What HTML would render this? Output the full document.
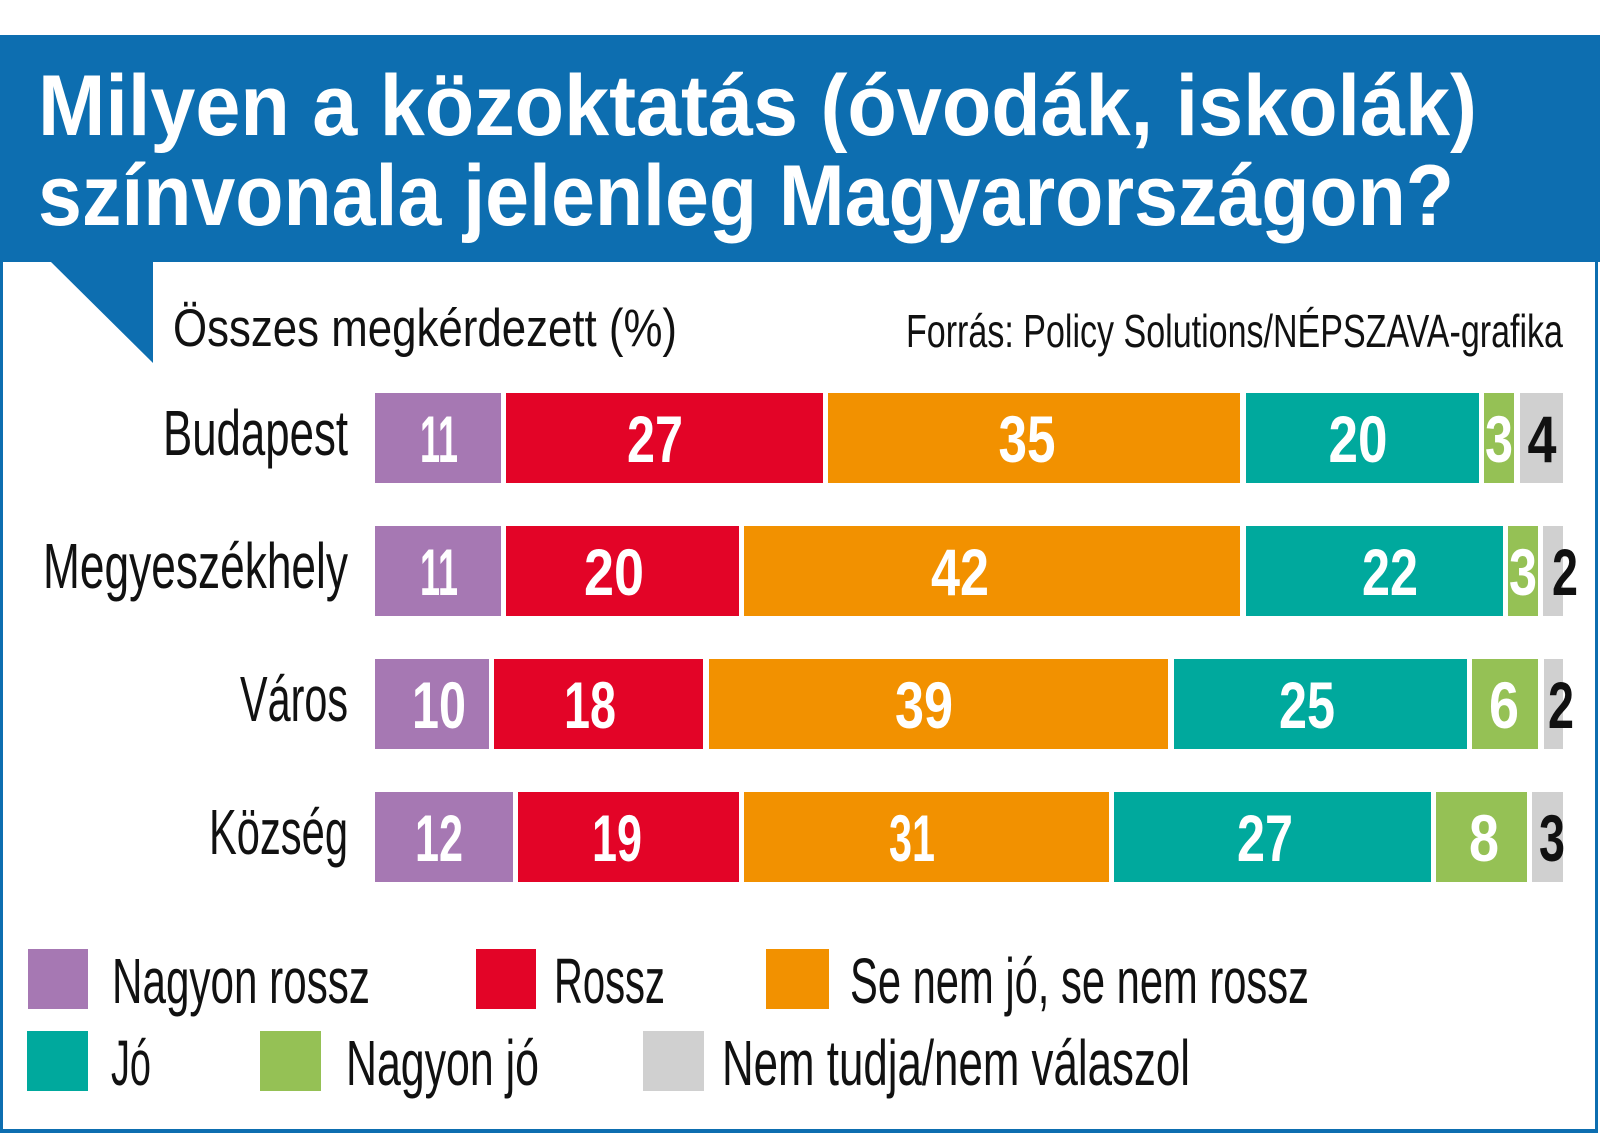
<!DOCTYPE html>
<html><head><meta charset="utf-8">
<style>
html,body{margin:0;padding:0;background:#fff;}
svg{display:block;}
.t{font-family:"Liberation Sans",sans-serif;font-weight:bold;fill:#fff;font-size:86px;}
.n{font-family:"Liberation Sans Narrow","Liberation Sans",sans-serif;font-weight:bold;font-size:66px;}
.l{font-family:"Liberation Sans Narrow","Liberation Sans",sans-serif;fill:#111;}
</style></head>
<body>
<svg width="1600" height="1137" viewBox="0 0 1600 1137" xmlns="http://www.w3.org/2000/svg">
<rect x="0" y="0" width="1600" height="1137" fill="#fff"/>
<!-- banner -->
<rect x="0" y="35" width="1600" height="227" fill="#0d6eb0"/>
<polygon points="50,261 153,261 153,363" fill="#0d6eb0"/>
<!-- frame -->
<rect x="0" y="261" width="3" height="872" fill="#0d6eb0"/>
<rect x="1595" y="261" width="3" height="872" fill="#0d6eb0"/>
<rect x="0" y="1129" width="1598" height="4" fill="#0d6eb0"/>
<!-- title -->
<text class="t" x="38" y="135" textLength="1439" lengthAdjust="spacingAndGlyphs">Milyen a közoktatás (óvodák, iskolák)</text>
<text class="t" x="38" y="225" textLength="1416" lengthAdjust="spacingAndGlyphs">színvonala jelenleg Magyarországon?</text>
<!-- subtitle -->
<text class="l" x="173" y="346" font-size="53" textLength="504" lengthAdjust="spacingAndGlyphs">Összes megkérdezett (%)</text>
<text class="l" x="906" y="347" font-size="46" textLength="657" lengthAdjust="spacingAndGlyphs">Forrás: Policy Solutions/NÉPSZAVA-grafika</text>
<!-- row labels -->
<g class="l" font-size="64" text-anchor="end">
<text x="348" y="455" textLength="185" lengthAdjust="spacingAndGlyphs">Budapest</text>
<text x="348" y="588" textLength="305" lengthAdjust="spacingAndGlyphs">Megyeszékhely</text>
<text x="348" y="721" textLength="108" lengthAdjust="spacingAndGlyphs">Város</text>
<text x="348" y="854" textLength="139" lengthAdjust="spacingAndGlyphs">Község</text>
</g>
<!-- Budapest -->
<g>
<rect x="375" y="393" width="126" height="90" fill="#a678b3"/>
<rect x="506" y="393" width="317" height="90" fill="#e30427"/>
<rect x="828" y="393" width="412" height="90" fill="#f29100"/>
<rect x="1246" y="393" width="233" height="90" fill="#00a99d"/>
<rect x="1484" y="393" width="30" height="90" fill="#95c155"/>
<rect x="1520" y="393" width="43" height="90" fill="#d0d0d0"/>
</g>
<!-- Megyeszékhely -->
<g>
<rect x="375" y="526" width="126" height="90" fill="#a678b3"/>
<rect x="506" y="526" width="233" height="90" fill="#e30427"/>
<rect x="744" y="526" width="496" height="90" fill="#f29100"/>
<rect x="1246" y="526" width="257" height="90" fill="#00a99d"/>
<rect x="1508" y="526" width="30" height="90" fill="#95c155"/>
<rect x="1543" y="526" width="20" height="90" fill="#d0d0d0"/>
</g>
<!-- Város -->
<g>
<rect x="375" y="659" width="114" height="90" fill="#a678b3"/>
<rect x="494" y="659" width="209" height="90" fill="#e30427"/>
<rect x="709" y="659" width="459" height="90" fill="#f29100"/>
<rect x="1174" y="659" width="293" height="90" fill="#00a99d"/>
<rect x="1472" y="659" width="66" height="90" fill="#95c155"/>
<rect x="1544" y="659" width="19" height="90" fill="#d0d0d0"/>
</g>
<!-- Község -->
<g>
<rect x="375" y="792" width="138" height="90" fill="#a678b3"/>
<rect x="518" y="792" width="221" height="90" fill="#e30427"/>
<rect x="744" y="792" width="365" height="90" fill="#f29100"/>
<rect x="1114" y="792" width="317" height="90" fill="#00a99d"/>
<rect x="1436" y="792" width="91" height="90" fill="#95c155"/>
<rect x="1532" y="792" width="31" height="90" fill="#d0d0d0"/>
</g>
<!-- numbers -->
<g class="n" fill="#fff" text-anchor="middle">
<text x="439" y="462" textLength="38" lengthAdjust="spacingAndGlyphs">11</text>
<text x="655" y="462" textLength="56" lengthAdjust="spacingAndGlyphs">27</text>
<text x="1027" y="462" textLength="57" lengthAdjust="spacingAndGlyphs">35</text>
<text x="1358" y="462" textLength="59" lengthAdjust="spacingAndGlyphs">20</text>
<text x="1499" y="462" textLength="28" lengthAdjust="spacingAndGlyphs">3</text>

<text x="439" y="595" textLength="38" lengthAdjust="spacingAndGlyphs">11</text>
<text x="614" y="595" textLength="60" lengthAdjust="spacingAndGlyphs">20</text>
<text x="960" y="595" textLength="58" lengthAdjust="spacingAndGlyphs">42</text>
<text x="1390" y="595" textLength="56" lengthAdjust="spacingAndGlyphs">22</text>
<text x="1523" y="595" textLength="28" lengthAdjust="spacingAndGlyphs">3</text>

<text x="439" y="728" textLength="54" lengthAdjust="spacingAndGlyphs">10</text>
<text x="590" y="728" textLength="52" lengthAdjust="spacingAndGlyphs">18</text>
<text x="924" y="728" textLength="58" lengthAdjust="spacingAndGlyphs">39</text>
<text x="1307" y="728" textLength="56" lengthAdjust="spacingAndGlyphs">25</text>
<text x="1504" y="728" textLength="30" lengthAdjust="spacingAndGlyphs">6</text>

<text x="439" y="861" textLength="48" lengthAdjust="spacingAndGlyphs">12</text>
<text x="617" y="861" textLength="50" lengthAdjust="spacingAndGlyphs">19</text>
<text x="912" y="861" textLength="46" lengthAdjust="spacingAndGlyphs">31</text>
<text x="1265" y="861" textLength="56" lengthAdjust="spacingAndGlyphs">27</text>
<text x="1484" y="861" textLength="30" lengthAdjust="spacingAndGlyphs">8</text>
</g>
<g class="n" fill="#111" text-anchor="middle">
<text x="1542" y="462" textLength="29" lengthAdjust="spacingAndGlyphs">4</text>
<text x="1565" y="595" textLength="26" lengthAdjust="spacingAndGlyphs">2</text>
<text x="1561" y="728" textLength="26" lengthAdjust="spacingAndGlyphs">2</text>
<text x="1552" y="861" textLength="26" lengthAdjust="spacingAndGlyphs">3</text>
</g>
<!-- legend -->
<rect x="28" y="949" width="60" height="60" fill="#a678b3"/>
<rect x="476" y="949" width="60" height="60" fill="#e30427"/>
<rect x="766" y="949" width="63" height="60" fill="#f29100"/>
<rect x="27" y="1031" width="61" height="60" fill="#00a99d"/>
<rect x="260" y="1031" width="61" height="60" fill="#95c155"/>
<rect x="643" y="1031" width="61" height="60" fill="#d0d0d0"/>
<g class="l" font-size="64">
<text x="112" y="1003" textLength="258" lengthAdjust="spacingAndGlyphs">Nagyon rossz</text>
<text x="554" y="1003" textLength="111" lengthAdjust="spacingAndGlyphs">Rossz</text>
<text x="850" y="1003" textLength="459" lengthAdjust="spacingAndGlyphs">Se nem jó, se nem rossz</text>
<text x="111" y="1085" textLength="40" lengthAdjust="spacingAndGlyphs">Jó</text>
<text x="346" y="1085" textLength="193" lengthAdjust="spacingAndGlyphs">Nagyon jó</text>
<text x="722" y="1085" textLength="468" lengthAdjust="spacingAndGlyphs">Nem tudja/nem válaszol</text>
</g>
</svg>
</body></html>
